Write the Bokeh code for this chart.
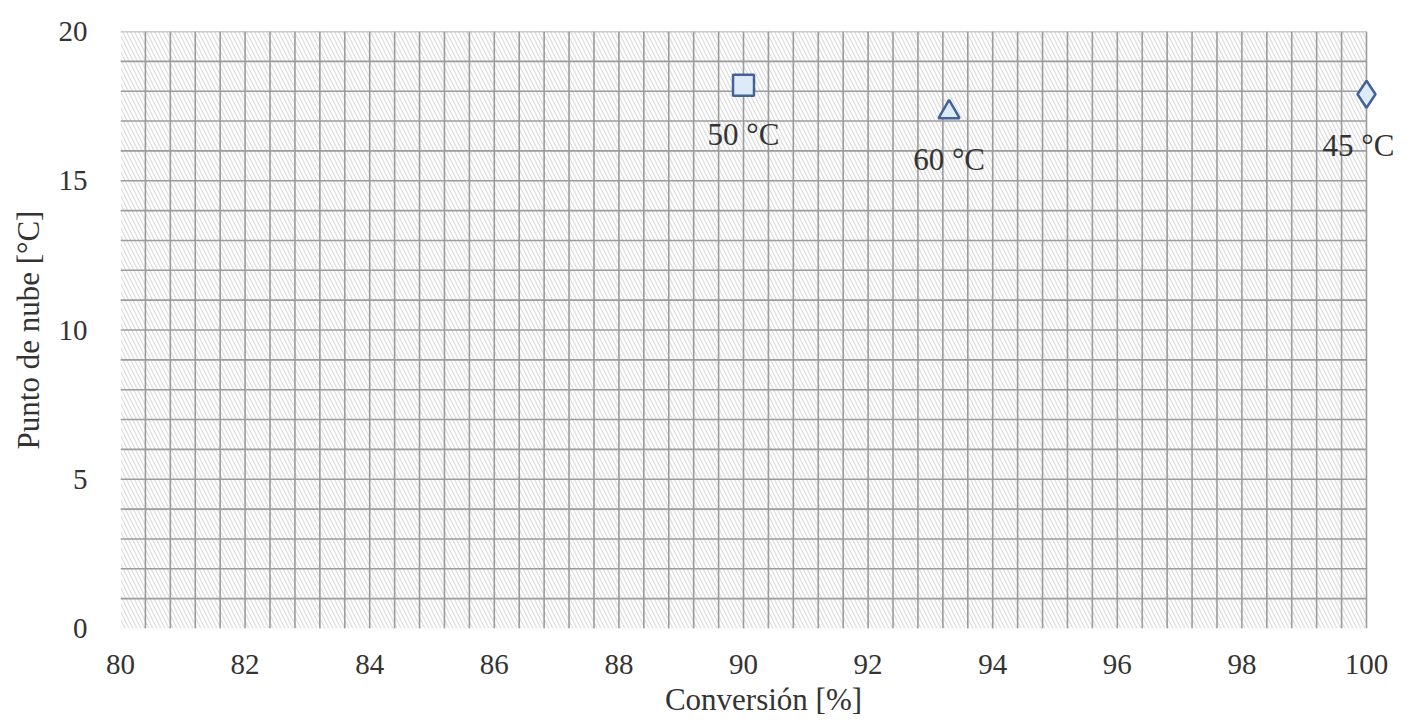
import numpy as np
from bokeh.plotting import figure
from bokeh.models import FixedTicker, Range1d, ColumnDataSource
from bokeh.core.properties import value
from bokeh.embed import file_html
from bokeh.resources import INLINE

# data
conversion = [90.0, 93.3, 100.0]
cloud_point = [18.2, 17.3, 17.9]
labels = ["50 °C", "60 °C", "45 °C"]
markers = ["square", "triangle", "diamond"]
x_ticks = [80, 82, 84, 86, 88, 90, 92, 94, 96, 98, 100]
y_ticks = [0, 5, 10, 15, 20]
x_min, x_max, y_min, y_max = 80, 100, 0, 20

FONT = "'Liberation Serif', 'Times New Roman', serif"
LINE = "#43619a"
FILL = "#dcebf7"
GRID = "#9c9c9c"

p = figure(width=1406, height=722, output_backend="svg", toolbar_location=None,
           x_range=Range1d(x_min, x_max + 0.642), y_range=Range1d(y_min, y_max))
p.min_border_left = 120
p.min_border_right = 0
p.min_border_top = 31
p.min_border_bottom = 94
p.outline_line_color = None
p.background_fill_color = "white"
p.xgrid.visible = False
p.ygrid.visible = False

# hatched background of the plotting area
bg = p.quad(left=[x_min], right=[x_max], bottom=[y_min], top=[y_max], fill_color="white",
            line_color=None, hatch_pattern="\\", hatch_color="#dedede",
            hatch_scale=8, hatch_weight=1.3)
bg.level = "image"

# grid lines restricted to the data area
gx = np.round(np.arange(x_min + 0.4, x_max + 0.01, 0.4), 2)
gy = np.arange(y_min + 1, y_max + 1, 1)
vg = p.segment(x0=gx, y0=[y_min] * len(gx), x1=gx, y1=[y_max] * len(gx),
               line_color=GRID, line_width=1.6)
hg = p.segment(x0=[x_min] * len(gy), y0=gy, x1=[x_max] * len(gy), y1=gy,
               line_color=GRID, line_width=1.6)
vg.level = "underlay"
hg.level = "underlay"

# axes
p.xaxis.ticker = FixedTicker(ticks=x_ticks)
p.yaxis.ticker = FixedTicker(ticks=y_ticks)
for ax in (p.xaxis, p.yaxis):
    ax.axis_line_color = None
    ax.major_tick_line_color = None
    ax.minor_tick_line_color = None
    ax.major_label_text_font = FONT
    ax.major_label_text_font_size = "29px"
    ax.major_label_text_color = "#333333"
    ax.axis_label_text_font = FONT
    ax.axis_label_text_font_size = "31px"
    ax.axis_label_text_font_style = "normal"
    ax.axis_label_text_color = "#333333"
p.xaxis.major_label_standoff = 20
p.yaxis.major_label_standoff = 27
p.xaxis.axis_label = "Conversión [%]"
p.yaxis.axis_label = "Punto de nube [°C]"
p.xaxis.axis_label_standoff = 5
p.yaxis.axis_label_standoff = 10

src = ColumnDataSource(dict(x=conversion, y=cloud_point, label=labels, marker=markers,
                            size=[21, 21, 27],
                            dx=[0, 0, -8], dy=[49, 47, 51]))
p.scatter(x="x", y="y", marker="marker", size="size", source=src, line_color=LINE,
          fill_color=FILL, line_width=2.5)
p.text(x="x", y="y", text="label", source=src, x_offset="dx", y_offset="dy",
       text_font=value(FONT), text_font_size="31px", text_color="#333333",
       text_align="center", text_baseline="middle")

open("out.html", "w").write(file_html(p, INLINE))
